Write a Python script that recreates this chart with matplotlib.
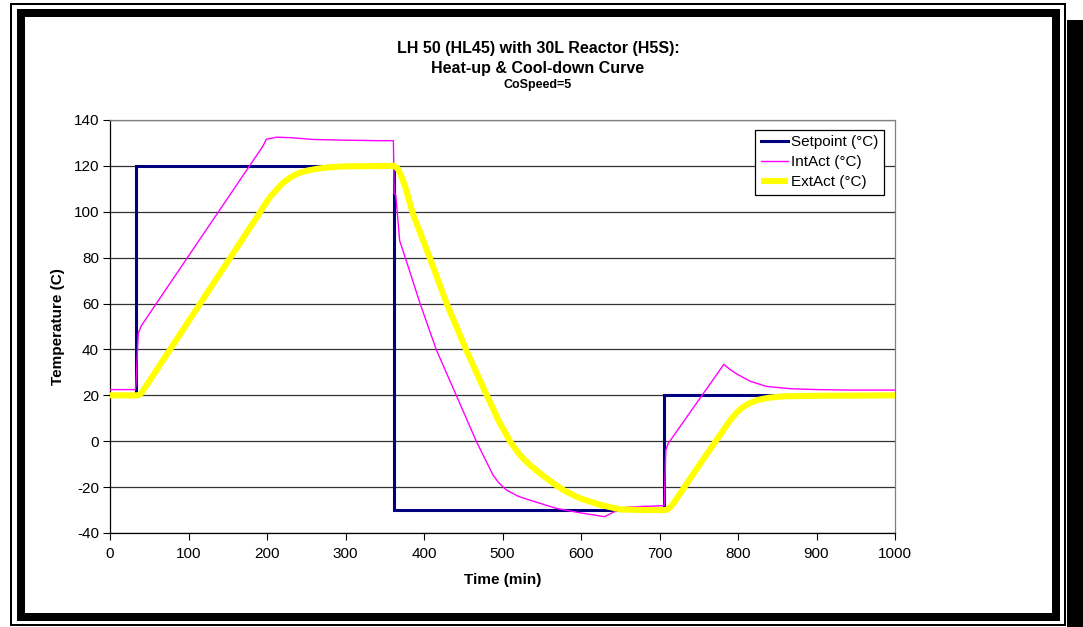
import matplotlib
matplotlib.use("Agg")
import matplotlib.pyplot as plt
from matplotlib.patches import Rectangle

plt.rcParams['font.family'] = ['Liberation Sans', 'DejaVu Sans']
plt.rcParams['axes.unicode_minus'] = False

# ---- data ----
sp_time = [0, 32.5, 32.5, 361.5, 361.5, 706, 706, 1000]
sp_vals = [20, 20, 120, 120, -30, -30, 20, 20]

int_time = [0, 32, 33, 36, 40, 195, 199, 212, 230, 260, 300, 340, 361, 362, 364, 369,
            379, 395, 416, 442, 467, 488, 495, 505, 520, 535, 569, 599, 630, 645, 660, 680,
            705, 706, 708, 711, 782, 790, 798, 815, 836, 866, 900, 943, 1000]
int_vals = [22.5, 22.5, 24, 47, 50.4, 128.7, 131.6, 132.5, 132.3, 131.5, 131.2, 131, 131,
            108, 107.5, 87.4, 77, 60, 39.6, 19.3, -0.3, -14.8, -18, -21.3, -24, -25.7,
            -29.3, -31.2, -32.9, -30.3, -28.7, -28.4, -28.1, -28, -3.9, -1, 33.5, 31.2,
            29.4, 26.2, 23.9, 22.9, 22.5, 22.3, 22.3]

ext_time = [0, 36, 39, 42, 191, 197, 204, 212, 220, 230, 240, 252, 265, 280, 300, 362,
            366, 370, 376, 386, 408, 429, 454, 480, 495, 510, 522, 535, 550, 565, 580, 599,
            625, 650, 680, 708, 713, 718, 752, 790, 797, 805, 815, 825, 840, 860, 900, 1000]
ext_vals = [20, 20, 20.6, 22, 99.7, 103, 106.5, 109.5, 112.5, 115, 116.8, 118, 118.8, 119.4,
            119.8, 120, 119, 116.5, 111, 99, 79.4, 59.9, 39.6, 20, 9, -0.3, -6, -10.4,
            -14.6, -18.4, -21.8, -24.9, -27.8, -29.7, -30, -30, -29, -27, -9.7, 9.1, 12,
            14.6, 16.6, 18, 19, 19.6, 19.8, 20]

series_labels = ['Setpoint (°C)', 'IntAct (°C)', 'ExtAct (°C)']
x_ticks = [0, 100, 200, 300, 400, 500, 600, 700, 800, 900, 1000]
y_ticks = [-40, -20, 0, 20, 40, 60, 80, 100, 120, 140]

W, H = 1083, 627
fig = plt.figure(figsize=(W / 100, H / 100), dpi=100)
fig.patch.set_facecolor('white')

def fx(px):
    return px / W

def fy(py):
    return 1 - py / H

PT = 0.72  # points per pixel

# ---- frame ----
fig.add_artist(Rectangle((fx(1067), fy(627)), fx(1083) - fx(1067), fy(20) - fy(627),
                         transform=fig.transFigure, facecolor='black', edgecolor='none'))
fig.add_artist(Rectangle((fx(11), fy(625)), fx(1064.5) - fx(11), fy(4) - fy(625),
                         transform=fig.transFigure, facecolor='none', edgecolor='black',
                         linewidth=2 * PT, joinstyle='miter'))
fig.add_artist(Rectangle((fx(21), fy(616.5)), fx(1055.5) - fx(21), fy(13) - fy(616.5),
                         transform=fig.transFigure, facecolor='none', edgecolor='black',
                         linewidth=8 * PT, joinstyle='miter'))

# ---- axes ----
L, R, T, B = 110, 895, 120, 533
ax = fig.add_axes([fx(L), fy(B), fx(R) - fx(L), fy(T) - fy(B)])

ax.plot(sp_time, sp_vals, color='#000080', lw=2.2, label=series_labels[0],
        solid_joinstyle='miter', zorder=3)
ax.plot(int_time, int_vals, color='#FF00FF', lw=1.0, label=series_labels[1], zorder=4)
ax.plot(ext_time, ext_vals, color='#FFFF00', lw=4.4, label=series_labels[2],
        solid_capstyle='butt', zorder=5)

ax.set_xlim(0, 1000)
ax.set_ylim(-40, 140)
ax.set_xticks(x_ticks)
ax.set_yticks(y_ticks)
ax.tick_params(axis='both', direction='out', length=5, width=0.8, labelsize=11,
               color='black')
ax.tick_params(axis='x', pad=5)
ax.tick_params(axis='y', pad=3)
ax.yaxis.grid(True, color='#333333', lw=0.9)
ax.set_axisbelow(True)
for s in ['left', 'bottom']:
    ax.spines[s].set_color('black')
    ax.spines[s].set_linewidth(0.9)
for s in ['top', 'right']:
    ax.spines[s].set_color('#808080')
    ax.spines[s].set_linewidth(0.9)

leg = ax.legend(loc='upper right', bbox_to_anchor=(0.986, 0.976), borderaxespad=0,
                fontsize=11, frameon=True, fancybox=False, edgecolor='black',
                framealpha=1, handlelength=1.8, handletextpad=0.2, labelspacing=0.4,
                borderpad=0.35)
leg.get_frame().set_linewidth(0.9)

# ---- texts ----
cx = 538
fig.text(fx(cx), fy(49), 'LH 50 (HL45) with 30L Reactor (H5S):', ha='center', va='center',
         fontsize=11.5, fontweight='bold')
fig.text(fx(cx), fy(69), 'Heat-up & Cool-down Curve', ha='center', va='center',
         fontsize=11.5, fontweight='bold')
fig.text(fx(cx), fy(85), 'CoSpeed=5', ha='center', va='center', fontsize=9,
         fontweight='bold')
fig.text(fx(58), fy((T + B) / 2), 'Temperature (C)', ha='center', va='center',
         rotation=90, fontsize=11, fontweight='bold')
fig.text(fx((L + R) / 2), fy(580), 'Time (min)', ha='center', va='center',
         fontsize=11, fontweight='bold')

fig.savefig('out.png', dpi=100)
